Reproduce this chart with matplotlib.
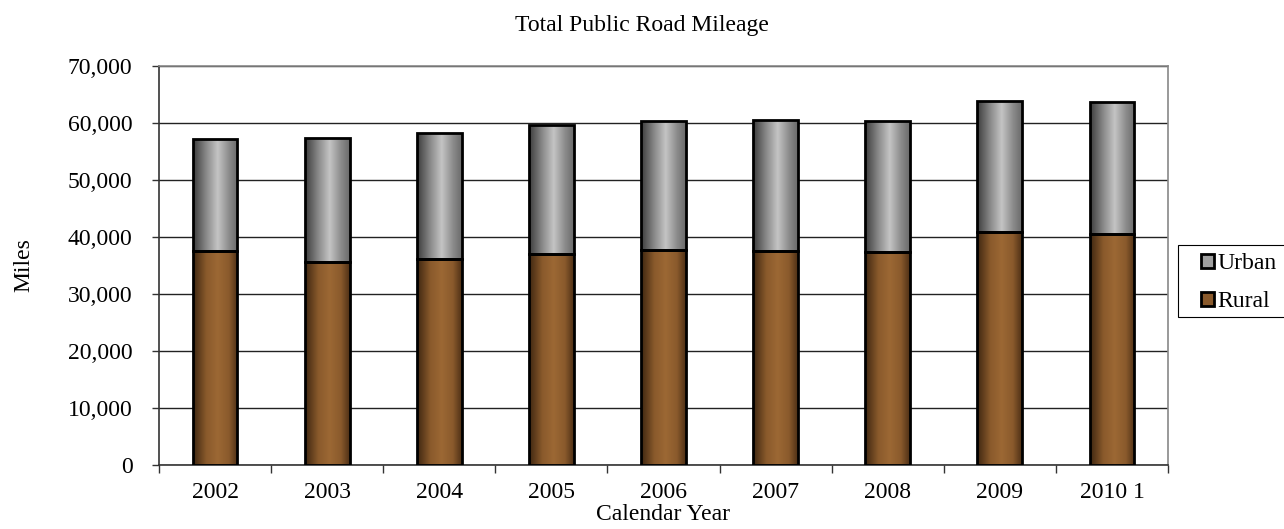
import matplotlib
matplotlib.use("Agg")
import matplotlib.pyplot as plt
import numpy as np
from matplotlib.colors import LinearSegmentedColormap
from matplotlib.patches import Patch, Rectangle
from matplotlib.ticker import FuncFormatter, FixedLocator

# data
years = ["2002", "2003", "2004", "2005", "2006", "2007", "2008", "2009", "2010 1"]
rural = [37600, 35700, 36100, 37000, 37700, 37500, 37400, 40800, 40600]
urban = [19600, 21700, 22100, 22600, 22700, 23000, 23000, 23100, 23000]

# graph format
graph_title = "Total Public Road Mileage"
x_label = "Calendar Year"
y_label = "Miles"
bar_width = 0.4
fs = 17

plt.rcParams["font.family"] = ["Liberation Serif", "DejaVu Serif"]

gray_cmap = LinearSegmentedColormap.from_list(
    "gray_grad", [(0, "#3c3c3c"), (0.3, "#8a8a8a"), (0.55, "#c4c4c4"), (0.8, "#8c8c8c"), (1, "#6a6a6a")])
brown_cmap = LinearSegmentedColormap.from_list(
    "brown_grad", [(0, "#3e2610"), (0.3, "#8a5a2c"), (0.55, "#9c6834"), (0.8, "#8a5a2c"), (1, "#4e3016")])


def gradient_bars(ax, bars, cmap):
    grad = np.linspace(0, 1, 256).reshape(1, -1)
    for b in bars:
        x0, y0 = b.get_x(), b.get_y()
        w, h = b.get_width(), b.get_height()
        im = ax.imshow(grad, cmap=cmap, aspect="auto", extent=(x0, x0 + w, y0, y0 + h),
                       zorder=2.5, interpolation="bilinear")
        im.set_clip_path(b)
        b.set_facecolor("none")


W, H = 1284, 529
fig = plt.figure(figsize=(W / 100, H / 100), dpi=100)
ax = fig.add_axes([159 / W, 1 - 465 / H, (1168 - 159) / W, (465 - 66) / H])

x = np.arange(len(years))
b_rural = ax.bar(x, rural, bar_width, edgecolor="black", linewidth=2, zorder=3, label="Rural")
b_urban = ax.bar(x, urban, bar_width, bottom=rural, edgecolor="black", linewidth=2, zorder=3, label="Urban")
gradient_bars(ax, b_rural, brown_cmap)
gradient_bars(ax, b_urban, gray_cmap)

ax.set_xlim(-0.5, len(years) - 0.5)
ax.set_ylim(0, 70000)
ax.set_yticks(np.arange(0, 70001, 10000))
ax.yaxis.set_major_formatter(FuncFormatter(lambda v, p: f"{int(v):,}"))
ax.set_xticks(x)
ax.set_xticklabels(years, fontsize=fs)
ax.xaxis.set_minor_locator(FixedLocator(np.arange(-0.5, len(years), 1)))
ax.tick_params(axis="x", which="major", length=0, pad=12)
ax.tick_params(axis="x", which="minor", length=6, width=1, color="#333333")
ax.tick_params(axis="y", labelsize=fs, length=5, width=1, color="#333333", pad=14)

ax.grid(axis="y", color="#222222", linewidth=1, zorder=1)
ax.set_axisbelow(True)
ax.spines["left"].set_color("#333333")
ax.spines["bottom"].set_color("#333333")
ax.spines["top"].set_color("#888888")
ax.spines["right"].set_color("#888888")
for s in ax.spines.values():
    s.set_linewidth(1.2)

fig.text(0.5, 1 - 25 / H, graph_title, ha="center", va="center", fontsize=fs)
ax.set_xlabel(x_label, fontsize=fs, labelpad=1)
ax.set_ylabel(y_label, fontsize=fs, labelpad=24)

# legend box runs off the right edge in the original
fig.patches.append(Rectangle((1178 / W, 1 - 317 / H), 130 / W, 72 / H, transform=fig.transFigure,
                             facecolor="white", edgecolor="black", linewidth=0.8, zorder=5))
handles = [Patch(facecolor="#a0a0a0", edgecolor="black", linewidth=2, label="Urban"),
           Patch(facecolor="#8a5a2c", edgecolor="black", linewidth=2, label="Rural")]
leg = fig.legend(handles=handles, loc="upper left", bbox_to_anchor=(1201 / W, 1 - 253 / H),
                 frameon=False, fontsize=fs, handlelength=0.55, handleheight=0.55,
                 handletextpad=0.15, labelspacing=0.72, borderpad=0, borderaxespad=0)
leg.set_zorder(6)

fig.savefig("out.png", dpi=100)
